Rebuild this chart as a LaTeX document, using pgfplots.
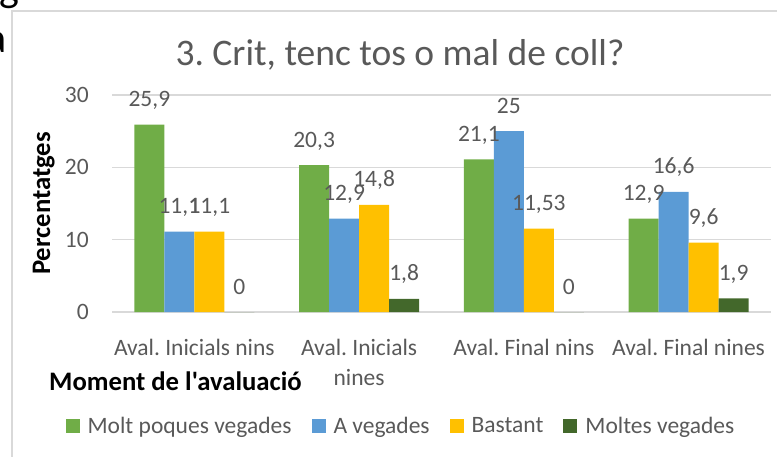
\documentclass[border=0pt]{standalone}
\usepackage{fontspec}
\setmainfont{Carlito}[Ligatures=TeXOff]
\usepackage{pgfplots}
\pgfplotsset{compat=1.18}
\frenchspacing
\definecolor{cgreen}{HTML}{70AD47}
\definecolor{cblue}{HTML}{5B9BD5}
\definecolor{cyellow}{HTML}{FFC000}
\definecolor{cdark}{HTML}{43682B}
\definecolor{txt}{HTML}{595959}
\definecolor{gridc}{HTML}{D9D9D9}
\newcommand{\lbl}{\fontsize{23.5}{30}\selectfont}
\begin{document}
\begin{tikzpicture}[x=1pt,y=1pt]
\useasboundingbox (0,0) rectangle (777,-457);
\draw[gridc, line width=1.5pt] (12,-457) -- (12,-11) -- (777,-11);
\node[anchor=base east, inner sep=0pt, font=\fontsize{42}{42}\selectfont] at (7,-53) {a};
\node[anchor=base west, inner sep=0pt, font=\fontsize{42}{42}\selectfont] at (-1,-2) {g};
\node[anchor=base, inner sep=0pt, text=txt, font=\fontsize{37.5}{40}\selectfont] at (400,-66) {3. Crit, tenc tos o mal de coll?};
\node[anchor=base west, inner sep=0pt, font=\fontsize{26.7}{27}\selectfont\bfseries] at (49,-390) {Moment de l'avaluació};
\node[anchor=base west, rotate=90, inner sep=0pt, font=\fontsize{26.7}{27}\selectfont\bfseries] at (50,-275) {Percentatges};
\begin{axis}[
  at={(112pt,-312pt)}, anchor=south west,
  scale only axis, width=659pt, height=217pt,
  xmin=-0.5, xmax=3.5, ymin=0, ymax=30,
  ybar=0pt, bar width=30pt,
  axis line style={draw=none},
  ymajorgrids, grid style={gridc, line width=1.2pt},
  ytick={0,10,20,30},
  xtick={0,1,2,3},
  xticklabels={{Aval. Inicials nins},{Aval. Inicials\\nines},{Aval. Final nins},{Aval. Final nines}},
  tick style={draw=none},
  yticklabel style={font=\lbl, text=txt, anchor=east, inner sep=0pt, xshift=-23pt},
  xticklabel style={font=\lbl, text=txt, anchor=north, inner sep=0pt, yshift=-23pt, align=center},
  /pgf/number format/assume math mode=true,
  clip=false,
  point meta=explicit symbolic,
  nodes near coords,
  every node near coord/.append style={font=\lbl, text=txt, anchor=base, inner sep=0pt, yshift=18pt},
  legend columns=4,
  legend style={at={(0.4385,-0.525)}, anchor=center, draw=none, fill=none, font=\lbl, text=txt,
    /tikz/every even column/.append style={column sep=18pt},
    /tikz/every odd column/.append style={column sep=6pt}},
  legend image code/.code={\fill[#1] (0pt,-7pt) rectangle (14pt,7pt);},
]
\addplot[fill=cgreen, draw=none] coordinates {(0,25.9)[25,9] (1,20.3)[20,3] (2,21.1)[21,1] (3,12.9)[12,9]};
\addplot[fill=cblue, draw=none] coordinates {(0,11.1)[11,1] (1,12.9)[12,9] (2,25)[25] (3,16.6)[16,6]};
\addplot[fill=cyellow, draw=none] coordinates {(0,11.1)[11,1] (1,14.8)[14,8] (2,11.53)[11,53] (3,9.6)[9,6]};
\addplot[fill=cdark, draw=none] coordinates {(0,0)[0] (1,1.8)[1,8] (2,0)[0] (3,1.9)[1,9]};
\legend{Molt poques vegades, A vegades, Bastant, Moltes vegades}
\end{axis}
\end{tikzpicture}
\end{document}
